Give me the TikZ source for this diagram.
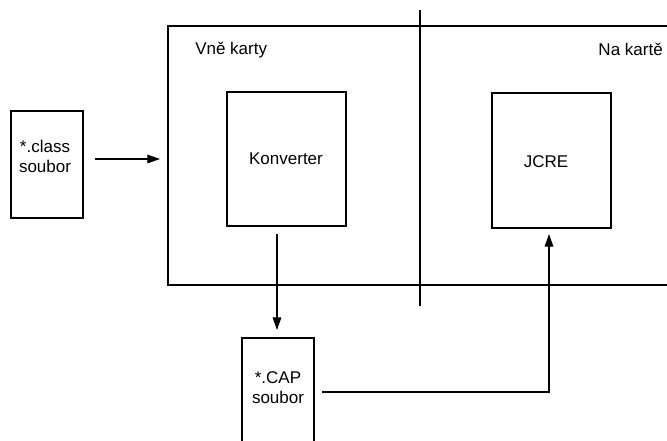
\documentclass[tikz,border=0pt]{standalone}
\usepackage{fontspec}
\setmainfont{Liberation Sans}
\usetikzlibrary{arrows.meta}
\begin{document}
\begin{tikzpicture}[x=0.75pt,y=-0.75pt,
 box/.style={draw, line width=1.1pt, inner sep=0pt, outer sep=0pt, anchor=north west},
 lbl/.style={font=\fontsize{12.75}{15}\selectfont, inner sep=0pt, align=center},
 arr/.style={line width=0.8pt, -{Triangle[length=9.5pt,width=6.5pt]}}]
\useasboundingbox (0,0) rectangle (667,441);
% boxes
\node[box, minimum width=54pt, minimum height=80.25pt] (cls) at (11,111) {};
\node[box, minimum width=414pt, minimum height=194.25pt] (big) at (168,26) {};
\node[box, minimum width=89.25pt, minimum height=100.5pt] (konv) at (227,92) {};
\node[box, minimum width=89.25pt, minimum height=101.25pt] (jcre) at (492,93) {};
\node[box, minimum width=54pt, minimum height=106.5pt] (cap) at (242,338) {};
% divider
\coordinate (dt) at (420,10);
\coordinate (db) at (420,306);
\draw[line width=0.9pt] (dt) -- (db);
% texts
\node[lbl] (clst) at (45,156) {*.class\\soubor};
\node[lbl, anchor=west] (vne) at (195,50) {Vně karty};
\node[lbl, anchor=east] (na) at (663,49) {Na kartě};
\node[lbl] (konvt) at (286,159) {Konverter};
\node[lbl] (jcret) at (546,162) {JCRE};
\node[lbl] (capt) at (278,388) {*.CAP\\soubor};
% connectors
\coordinate (a1) at (0,159);
\draw[arr, shorten <=9pt, shorten >=6pt] (cls.east |- a1) -- (big.west |- a1);
\coordinate (cx) at (277,0);
\draw[arr, shorten <=6pt, shorten >=6pt] (cx |- konv.south) -- (cx |- cap.north);
\coordinate (y3) at (0,392);
\coordinate (x3) at (549,0);
\draw[arr, shorten <=6pt, shorten >=4.5pt] (cap.east |- y3) -| (x3 |- jcre.south);
\end{tikzpicture}
\end{document}
